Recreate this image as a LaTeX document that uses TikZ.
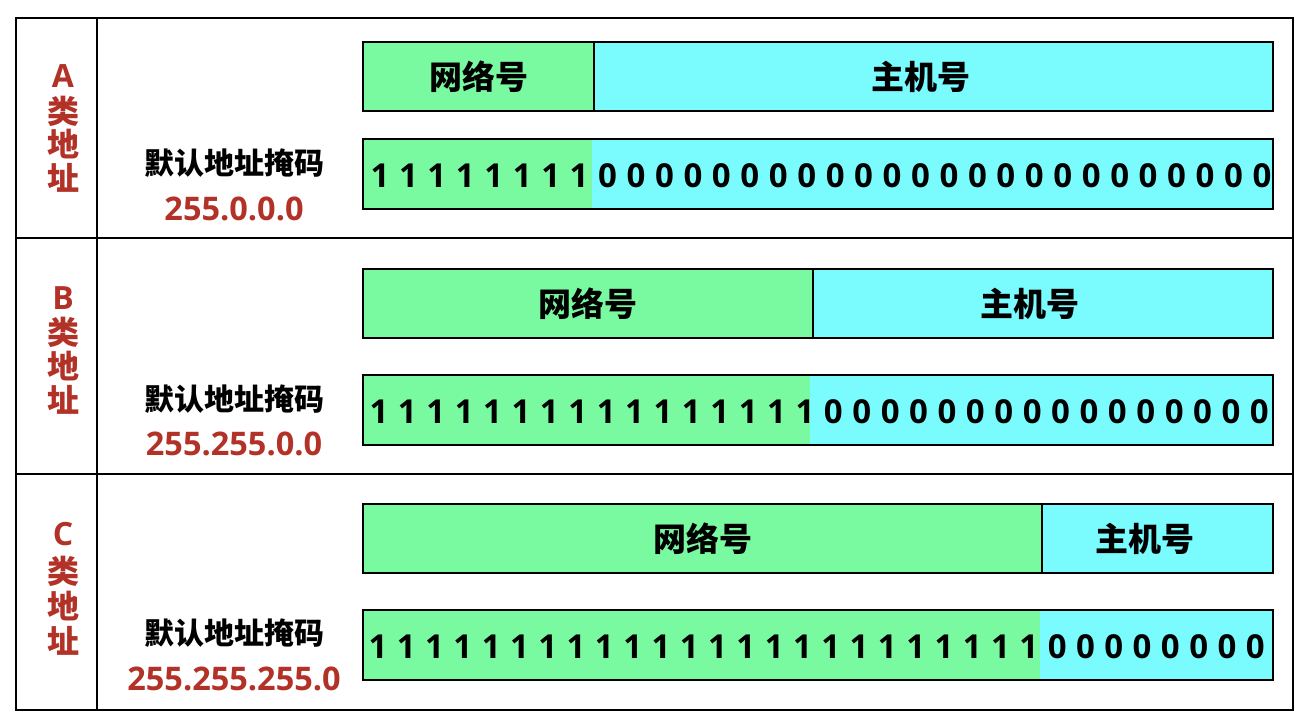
\documentclass[tikz,border=0pt]{standalone}
\usepackage{fontspec}
\setmainfont{Noto Sans CJK SC}
\newfontfamily\latinf{Open Sans}
\definecolor{netg}{RGB}{122,250,160}
\definecolor{hostc}{RGB}{122,252,255}
\definecolor{lblred}{RGB}{178,50,40}
\newcommand\ipRow[8]{%
  \fill[netg] (363,#1) rectangle (#2,#1+69);
  \fill[hostc] (#2,#1) rectangle (1273,#1+69);
  \draw[bar] (363,#1) rectangle (1273,#1+69);
  \draw[bar,line width=2pt] (#2,#1) -- (#2,#1+69);
  \node[hdr] (#8net) at ({(363+#2)/2},#1+35) {网络号};
  \node[hdr] (#8host) at ({(#2+1273)/2-13},#1+35) {主机号};
  \fill[netg] (363,#3) rectangle (#4,#3+70);
  \fill[hostc] (#4,#3) rectangle (1273,#3+70);
  \draw[bar] (363,#3) rectangle (1273,#3+70);
  \foreach \i in {0,...,31}{%
    \pgfmathsetmacro\xx{#6+#7*\i}
    \ifnum\i<#5\relax
      \node[bit] (#8b\i) at (\xx,#3+48) {1};
    \else
      \node[bit] (#8b\i) at (\xx,#3+48) {0};
    \fi
  }
}
\begin{document}
\begin{tikzpicture}[x=1pt,y=-1pt,
  bar/.style={draw=black,line width=2.5pt},
  grid/.style={draw=black,line width=2.5pt},
  lbl/.style={font=\bfseries\fontsize{32}{32}\selectfont,text=lblred,inner sep=0pt},
  lbll/.style={font=\latinf\bfseries\fontsize{32}{32}\selectfont,text=lblred,inner sep=0pt},
  hdr/.style={font=\bfseries\fontsize{33}{33}\selectfont,inner sep=0pt},
  masklbl/.style={font=\bfseries\fontsize{30}{30}\selectfont,inner sep=0pt},
  maskval/.style={font=\latinf\bfseries\fontsize{32.5}{32.5}\selectfont,text=lblred,inner sep=0pt,anchor=base},
  bit/.style={font=\latinf\bfseries\fontsize{33}{33}\selectfont,anchor=base,inner sep=0pt}]
\useasboundingbox (0,0) rectangle (1306,721);
\fill[white] (0,0) rectangle (1306,721);
% table
\draw[grid] (16,18) rectangle (1293,710);
\draw[grid] (97,18) -- (97,710);
\draw[grid] (16,238) -- (1293,238);
\draw[grid] (16,474) -- (1293,474);
% rows
\ipRow{42}{594}{139}{592}{8}{380}{28.45}{A}
\ipRow{269}{813}{375}{810}{16}{379}{28.4}{B}
\ipRow{504}{1042}{610}{1040}{24}{378}{28.3}{C}
% left labels
\node[lbll] (La) at (63,76) {A};
\node[lbl] (La1) at (63,111) {类};
\node[lbl] (La2) at (63,144) {地};
\node[lbl] (La3) at (63,178) {址};
\node[lbll] (Lb) at (63,298) {B};
\node[lbl] (Lb1) at (63,332) {类};
\node[lbl] (Lb2) at (63,366) {地};
\node[lbl] (Lb3) at (63,400) {址};
\node[lbll] (Lc) at (63,534) {C};
\node[lbl] (Lc1) at (63,571) {类};
\node[lbl] (Lc2) at (63,606) {地};
\node[lbl] (Lc3) at (63,641) {址};
% mask labels
\node[masklbl] (Ma) at (234,163) {默认地址掩码};
\node[maskval] (Va) at (234,220) {255.0.0.0};
\node[masklbl] (Mb) at (234,399) {默认地址掩码};
\node[maskval] (Vb) at (234,455) {255.255.0.0};
\node[masklbl] (Mc) at (234,633) {默认地址掩码};
\node[maskval] (Vc) at (234,690) {255.255.255.0};
\end{tikzpicture}
\end{document}
